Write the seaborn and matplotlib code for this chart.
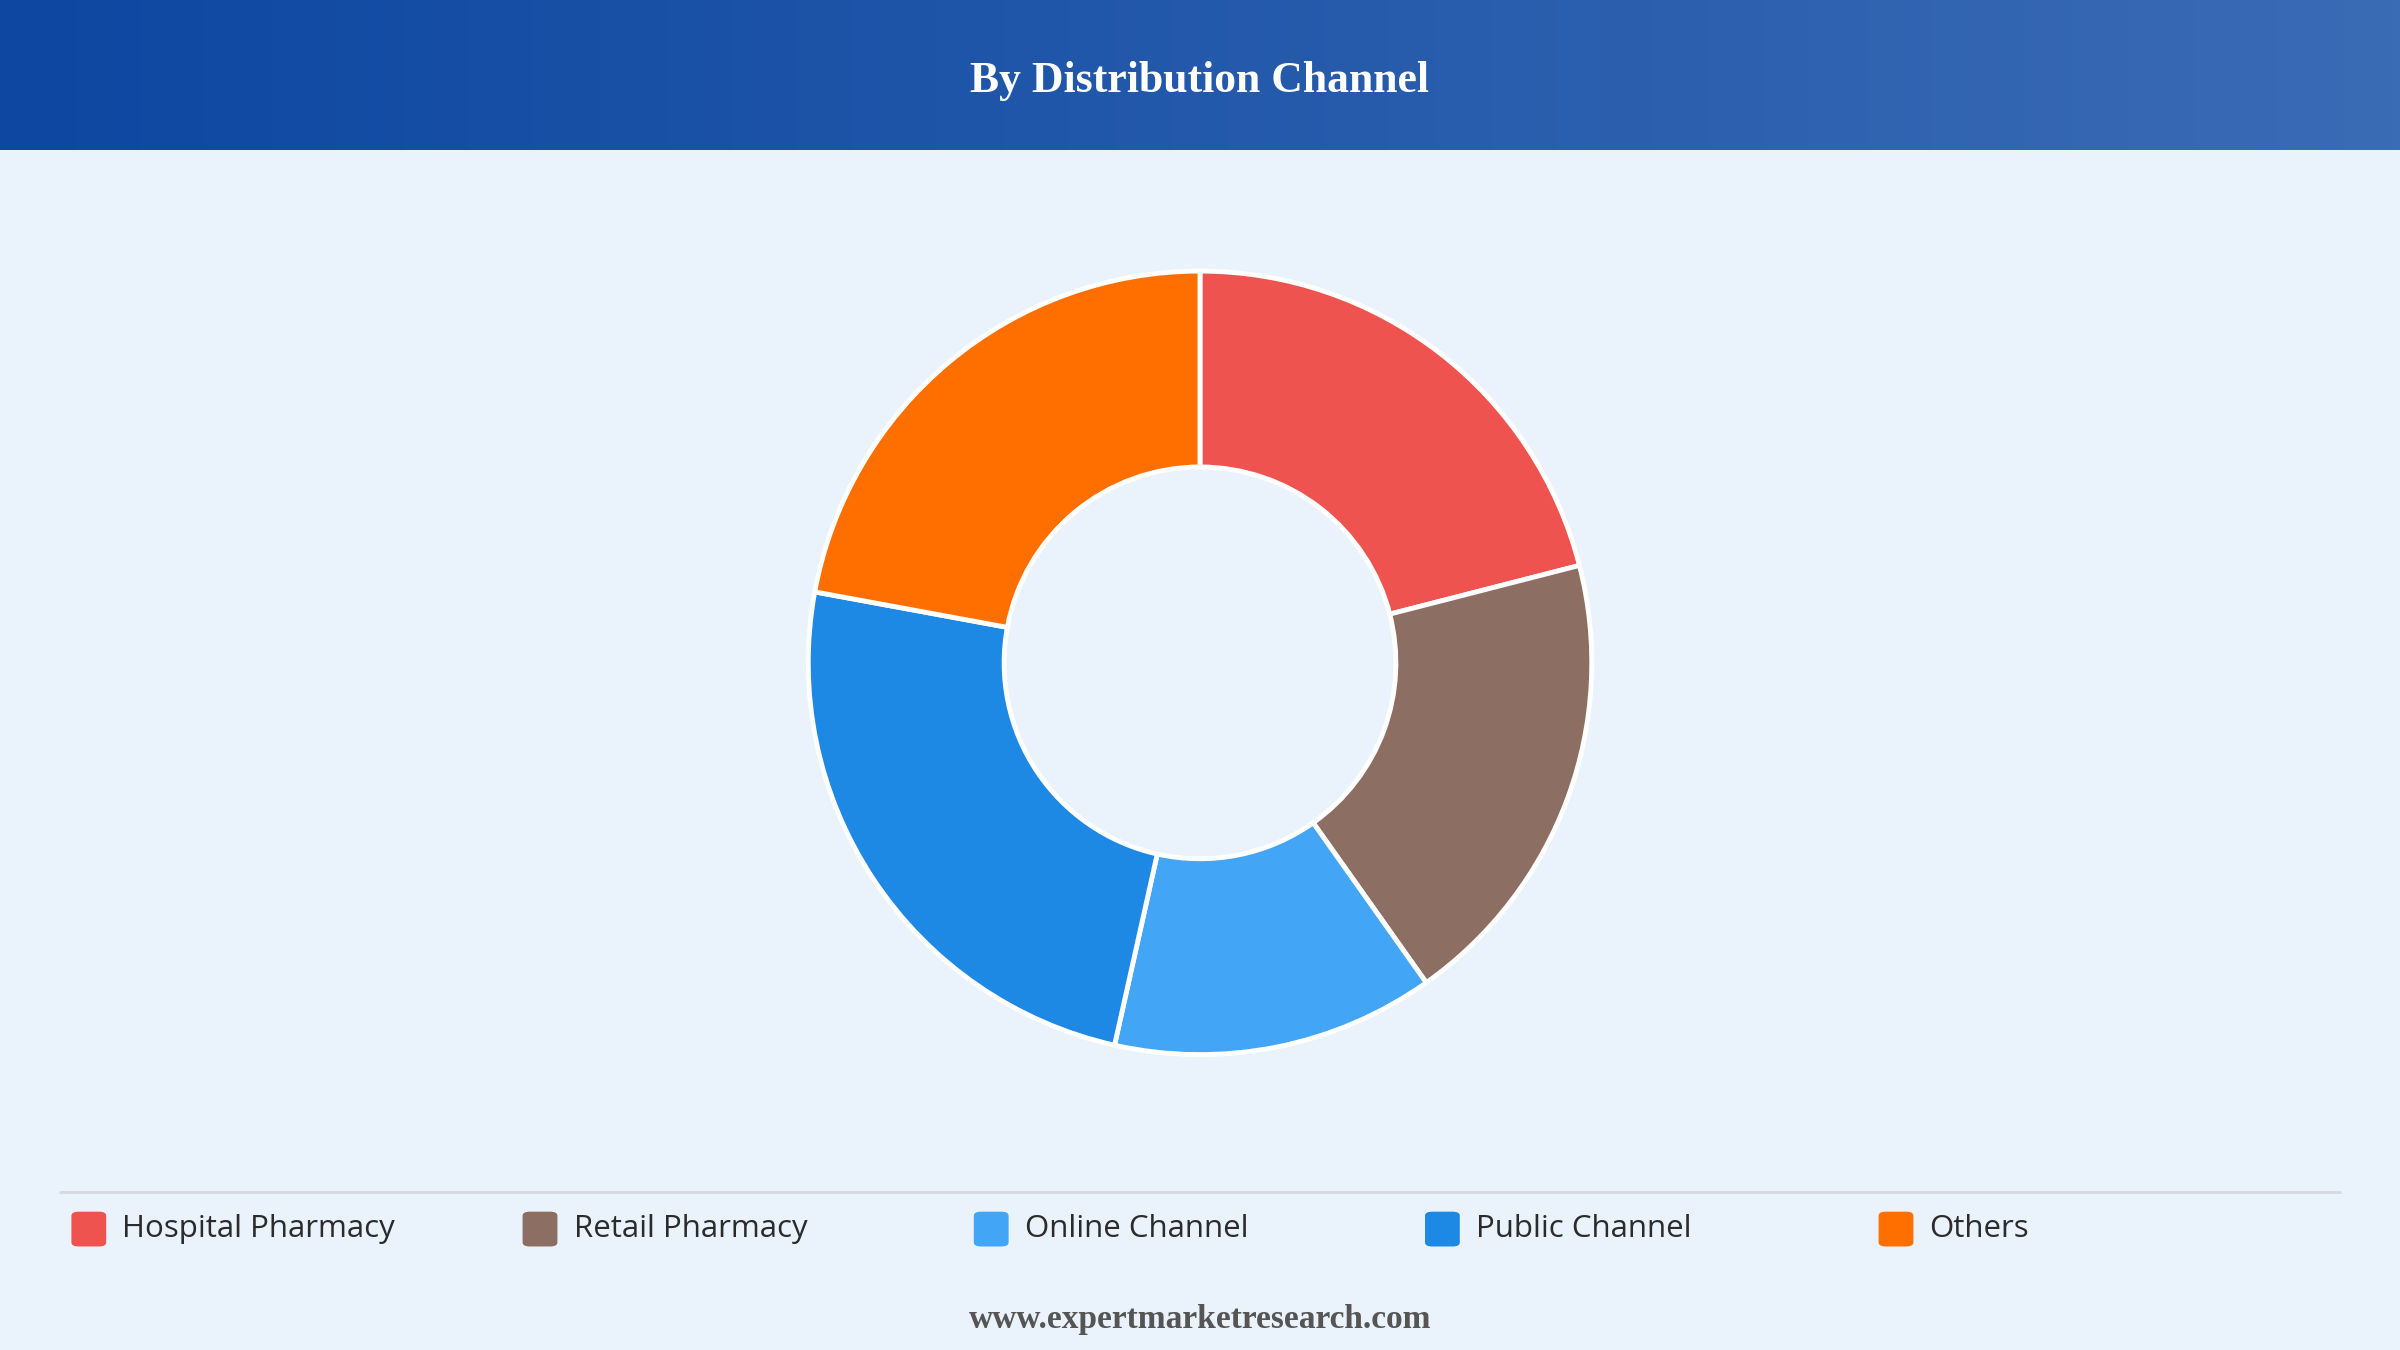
import matplotlib
matplotlib.use("Agg")
import matplotlib.pyplot as plt
import seaborn as sns
import numpy as np
from matplotlib.patches import FancyBboxPatch
from matplotlib.colors import LinearSegmentedColormap

sns.set_theme(style="white")
plt.rcParams['font.family'] = ['Open Sans', 'DejaVu Sans']

categories = ["Hospital Pharmacy", "Retail Pharmacy", "Online Channel", "Public Channel", "Others"]
values = [21.0, 19.2, 13.3, 24.4, 22.1]
colors = ["#EF5350", "#8D6E63", "#42A5F5", "#1E88E5", "#FF6F00"]
title = "By Distribution Channel"
footer = "www.expertmarketresearch.com"

fig = plt.figure(figsize=(24, 13.5), dpi=100)
fig.patch.set_facecolor("#EAF2FB")

hax = fig.add_axes([0, 1 - 98/882, 1, 98/882])
grad = np.linspace(0, 1, 256).reshape(1, -1)
cmap = LinearSegmentedColormap.from_list("h", ["#0D47A1", "#3A6BB5"])
hax.imshow(grad, aspect="auto", cmap=cmap, extent=[0, 1, 0, 1])
hax.set_axis_off()
hax.text(0.5, 0.46, title, ha="center", va="center", color="white",
         fontsize=31.5, fontweight="bold", family=["Liberation Serif", "DejaVu Serif"])

r = 0.296
w = 2 * r * 1350 / 2400
ax = fig.add_axes([0.5 - w/2, 0.509 - r, w, 2 * r])
ax.pie(values, colors=colors, startangle=90, counterclock=False,
       wedgeprops=dict(width=0.5, edgecolor="white", linewidth=3.5))
ax.set_xlim(-1.02, 1.02); ax.set_ylim(-1.02, 1.02)
ax.set_aspect("equal")
ax.set_axis_off()

fig.add_artist(plt.Line2D([0.025, 0.975], [1 - 779/882] * 2, color="#D5D9DE", lw=2))
xs = [0.037, 0.225, 0.413, 0.601, 0.79]
ly = 1 - 803/882
for x, c, lab in zip(xs, colors, categories):
    sw, sh = 0.0145, 0.0145 * 2400 / 1350
    fig.add_artist(FancyBboxPatch((x - sw/2, ly - sh/2), sw, sh,
                                  boxstyle="round,pad=0,rounding_size=0.003",
                                  transform=fig.transFigure, fc=c, ec="none"))
    fig.text(x + 0.014, ly, lab, ha="left", va="center", fontsize=22.5,
             fontweight="medium", color="#2b2b2b")

fig.text(0.5, 1 - 862/882, footer, ha="center", va="center", fontsize=24,
         fontweight="bold", color="#555555", family=["Liberation Serif", "DejaVu Serif"])

fig.savefig("out.png", dpi=100, facecolor=fig.get_facecolor())
